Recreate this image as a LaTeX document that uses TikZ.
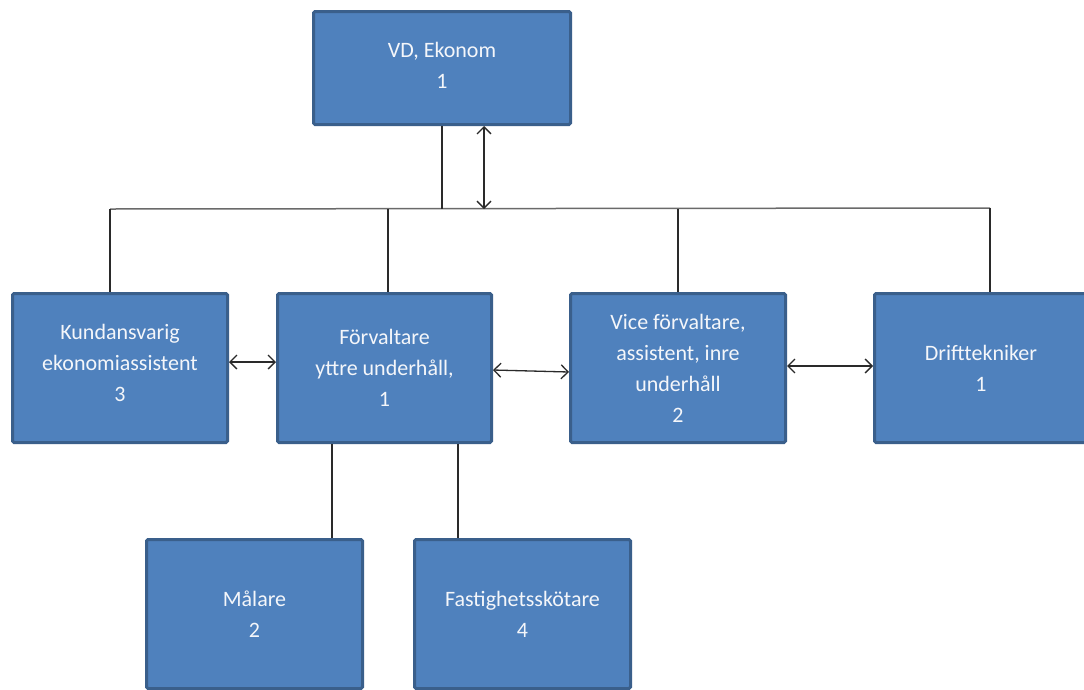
\documentclass[tikz,border=0pt]{standalone}
\usepackage{fontspec}
\setmainfont{Carlito}
\usetikzlibrary{arrows.meta}
\definecolor{boxfill}{HTML}{4F81BD}
\definecolor{boxline}{HTML}{3A5F8B}
\definecolor{linegray}{HTML}{2A2A2A}
\definecolor{busgray}{HTML}{6A6A6A}
\definecolor{txt}{HTML}{F4F6FA}
\tikzset{
  orgbox/.style={draw=boxline, fill=boxfill, line width=3pt, rounded corners=1.5pt,
    text=txt, align=center, inner sep=0pt,
    font=\fontsize{22}{31}\selectfont},
  conn/.style={draw=linegray, line width=1.3pt},
  biarrow/.style={conn, {Straight Barb[length=7pt,width=14pt]}-{Straight Barb[length=7pt,width=14pt]}}
}
\begin{document}
\begin{tikzpicture}[x=1pt,y=-1pt]
\useasboundingbox (0,0) rectangle (1084,689);
\clip (0,0) rectangle (1084,689);
\fill[white] (0,0) rectangle (1084,689);

\node[orgbox, minimum width=257pt, minimum height=113pt] (vd) at (442,68) {VD, Ekonom\\1\rule[-6pt]{0pt}{6pt}};
\node[orgbox, minimum width=215pt, minimum height=149pt] (kund) at (120,368) {Kundansvarig\\ekonomiassistent\\3\rule[-10pt]{0pt}{10pt}};
\node[orgbox, minimum width=214pt, minimum height=149pt] (forv) at (384.5,368) {Förvaltare\\yttre underhåll,\\1};
\node[orgbox, minimum width=215pt, minimum height=149pt] (vice) at (678,368) {Vice förvaltare,\\assistent, inre\\underhåll\\2};
\node[orgbox, minimum width=222pt, minimum height=149pt] (drift) at (985.5,368) {Drifttekniker\hspace*{9pt}\\1\hspace*{9pt}};
\node[orgbox, minimum width=216pt, minimum height=149pt] (malare) at (254.5,614) {Målare\\2};
\node[orgbox, minimum width=216pt, minimum height=149pt] (fast) at (522.5,614) {Fastighetsskötare\\4};

\coordinate (busL) at (110,209);
\coordinate (busR) at (990,208);
\coordinate (j0) at (442,209);
\coordinate (ja) at (484,209);
\coordinate (j2) at (388,209);
\coordinate (j3) at (678,209);
\coordinate (m1) at (332,0);
\coordinate (f1) at (458,0);

\draw[draw=busgray, line width=1.5pt] (busL) -- (busR);
\draw[conn] (j0 |- vd.south) -- (j0);
\draw[biarrow] (ja |- vd.south) -- (ja);
\draw[conn] (busL) -- (busL |- kund.north);
\draw[conn] (j2) -- (j2 |- forv.north);
\draw[conn] (j3) -- (j3 |- vice.north);
\draw[conn] (busR) -- (busR |- drift.north);

\draw[conn] (m1 |- forv.south) -- (m1 |- malare.north);
\draw[conn] (f1 |- forv.south) -- (f1 |- fast.north);

\draw[biarrow] ([yshift=6pt]kund.east) -- ([yshift=6pt]forv.west);
\draw[biarrow] ([yshift=-2pt]forv.east) -- ([yshift=-4pt]vice.west);
\draw[biarrow] ([yshift=2pt]vice.east) -- ([yshift=2pt]drift.west);
\end{tikzpicture}
\end{document}
